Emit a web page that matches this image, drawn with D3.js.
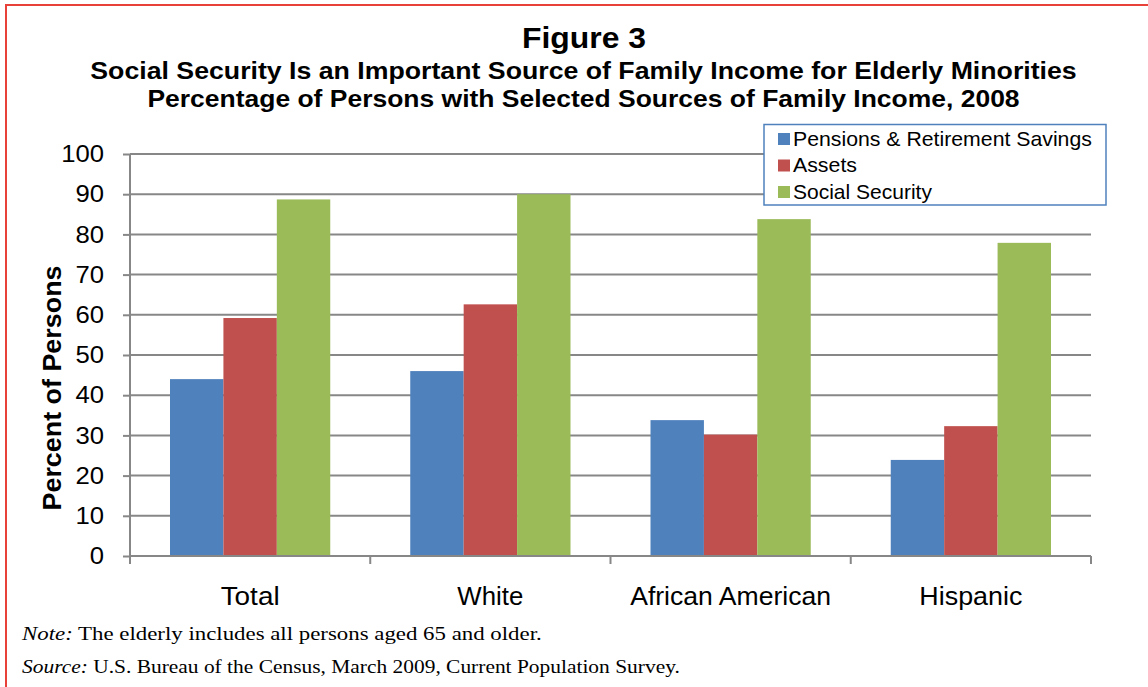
<!DOCTYPE html>
<html><head><meta charset="utf-8">
<script src="https://cdn.jsdelivr.net/npm/d3@7"></script>
<style>html,body{margin:0;padding:0;background:#fff;}svg{display:block;}</style>
</head><body>
<script>
const categories = ["Total", "White", "African American", "Hispanic"];
const seriesNames = ["Pensions & Retirement Savings", "Assets", "Social Security"];
const pensions = [44.0, 46.0, 33.8, 23.9];
const assets = [59.2, 62.6, 30.2, 32.3];
const socialSecurity = [88.7, 90.0, 83.8, 77.9];
const yTicks = [0, 10, 20, 30, 40, 50, 60, 70, 80, 90, 100];
const colors = ["#4f81bd", "#c0504d", "#9bbb59"];

(function () {
const series = [pensions, assets, socialSecurity];
const W = 1148, H = 687;
const svg = d3.select("body").append("svg").attr("width", W).attr("height", H);
const tf = "Liberation Sans, Arial, sans-serif";
const nf = "Liberation Serif, Times New Roman, serif";

// stretch a text horizontally to a target width, keeping its anchor point fixed
function fitWidth(sel, target) {
  const w = sel.node().getComputedTextLength();
  const sx = target / w;
  const x = +sel.attr("x") || 0, yv = +sel.attr("y") || 0;
  sel.attr("transform", `translate(${x},${yv}) scale(${sx},1) translate(${-x},${-yv})`);
}

// outer frame
svg.append("rect").attr("x", 6).attr("y", 5).attr("width", W + 10).attr("height", H + 10)
  .attr("fill", "none").attr("stroke", "#e8413a").attr("stroke-width", 2);

const pLeft = 130, pRight = 1091, pTop = 154, pBottom = 556;
const x0 = d3.scaleBand().domain(categories).range([pLeft, pRight]).paddingInner(0).paddingOuter(0);
const x1 = d3.scaleBand().domain(d3.range(3)).range([40, x0.bandwidth() - 40]);
const y = d3.scaleLinear().domain([0, 100]).range([pBottom, pTop]);

// gridlines
svg.append("g").selectAll("line").data(yTicks.filter(d => d > 0)).join("line")
  .attr("x1", pLeft).attr("x2", pRight).attr("y1", d => y(d)).attr("y2", d => y(d))
  .attr("stroke", "#878787").attr("stroke-width", 2);

// bars
const g = svg.append("g");
categories.forEach((c, i) => {
  series.forEach((s, j) => {
    g.append("rect")
      .attr("x", x0(c) + x1(j)).attr("width", x1.bandwidth())
      .attr("y", y(s[i])).attr("height", y(0) - y(s[i]))
      .attr("fill", colors[j]);
  });
});

// y axis
const yAxis = svg.append("g").attr("transform", `translate(${pLeft},0)`)
  .call(d3.axisLeft(y).tickValues(yTicks).tickSize(7).tickPadding(19));
yAxis.select(".domain").attr("stroke", "#878787").attr("stroke-width", 2).attr("d", `M0,${pTop}V${pBottom}`);
yAxis.selectAll(".tick line").attr("stroke", "#878787").attr("stroke-width", 2);
yAxis.selectAll("text").attr("font-family", tf).attr("font-size", 24).attr("fill", "#000")
  .attr("transform", "translate(-26,0) scale(1.07,1) translate(26,0)");

// x axis
svg.append("line").attr("x1", pLeft).attr("x2", pRight).attr("y1", pBottom).attr("y2", pBottom)
  .attr("stroke", "#878787").attr("stroke-width", 2);
const bounds = categories.map(c => x0(c)).concat([pRight]);
svg.append("g").selectAll("line").data(bounds).join("line")
  .attr("x1", d => d).attr("x2", d => d).attr("y1", pBottom).attr("y2", pBottom + 8)
  .attr("stroke", "#878787").attr("stroke-width", 2);
const catWidths = [59, 66, 201, 103];
svg.append("g").selectAll("text").data(categories).join("text")
  .attr("x", d => x0(d) + x0.bandwidth() / 2).attr("y", 605)
  .attr("text-anchor", "middle")
  .attr("font-family", tf).attr("font-size", 25)
  .text(d => d)
  .each(function (d, i) { fitWidth(d3.select(this), catWidths[i]); });

// y axis title
svg.append("text").attr("transform", "translate(61,388) rotate(-90)")
  .attr("text-anchor", "middle").attr("font-family", tf)
  .attr("font-weight", "bold").attr("font-size", 25)
  .attr("textLength", 245).attr("lengthAdjust", "spacingAndGlyphs")
  .text("Percent of Persons");

// titles
const t0 = svg.append("text").attr("x", 584).attr("y", 48).attr("text-anchor", "middle")
  .attr("font-family", tf).attr("font-weight", "bold").attr("font-size", 30).text("Figure 3");
fitWidth(t0, 124);
const t1 = svg.append("text").attr("x", 583.5).attr("y", 79.5).attr("text-anchor", "middle")
  .attr("font-family", tf).attr("font-weight", "bold").attr("font-size", 23.5)
  .text("Social Security Is an Important Source of Family Income for Elderly Minorities");
fitWidth(t1, 987);
const t2 = svg.append("text").attr("x", 583.5).attr("y", 107.5).attr("text-anchor", "middle")
  .attr("font-family", tf).attr("font-weight", "bold").attr("font-size", 23.5)
  .text("Percentage of Persons with Selected Sources of Family Income, 2008");
fitWidth(t2, 873);

// legend
const lg = svg.append("g");
lg.append("rect").attr("x", 764).attr("y", 124.5).attr("width", 342).attr("height", 80.5)
  .attr("fill", "#fff").attr("stroke", "#4f81bd").attr("stroke-width", 1.5);
const legWidths = [299, 64, 139];
seriesNames.forEach((n, j) => {
  const base = 146 + j * 26.5;
  lg.append("rect").attr("x", 778).attr("y", base - 13).attr("width", 12).attr("height", 12).attr("fill", colors[j]);
  const t = lg.append("text").attr("x", 793).attr("y", base).attr("font-family", tf).attr("font-size", 21).text(n);
  fitWidth(t, legWidths[j]);
});

// notes
const n1 = svg.append("text").attr("x", 22).attr("y", 640).attr("font-family", nf).attr("font-size", 18.5);
n1.append("tspan").attr("font-style", "italic").text("Note:");
n1.append("tspan").text(" The elderly includes all persons aged 65 and older.");
fitWidth(n1, 520);
const n2 = svg.append("text").attr("x", 22).attr("y", 673).attr("font-family", nf).attr("font-size", 18.5);
n2.append("tspan").attr("font-style", "italic").text("Source:");
n2.append("tspan").text(" U.S. Bureau of the Census, March 2009, Current Population Survey.");
fitWidth(n2, 658);
})();
</script>
</body></html>
